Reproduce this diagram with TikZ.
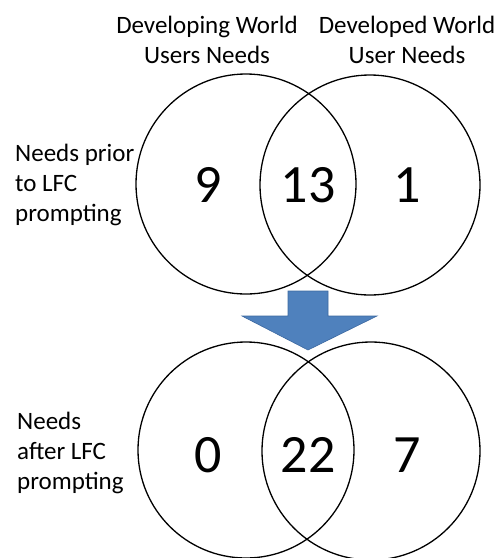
\documentclass[tikz,border=0pt]{standalone}
\usepackage{fontspec}
\setmainfont{Carlito}
\definecolor{arrowblue}{RGB}{79,129,189}
\definecolor{arrowedge}{RGB}{60,104,160}
\begin{document}
\begin{tikzpicture}[x=1pt,y=-1pt,
  venn/.style={circle,draw=black,line width=1.3pt,inner sep=0pt,minimum size=#1},
  lbl/.style={font=\fontsize{25}{30}\selectfont,inner sep=0pt},
  num/.style={font=\fontsize{54}{60}\selectfont,inner sep=0pt}]
\useasboundingbox (0,0) rectangle (500,558);
% top Venn
\node[venn=220pt] (L1) at (246,184) {};
\node[venn=220pt] (R1) at (370,185) {};
% bottom Venn
\node[venn=216pt] (L2) at (246,450) {};
\node[venn=218pt] (R2) at (371,451) {};
% headings
\node[lbl,align=center] (h1) at (207,40) {Developing World\\Users Needs};
\node[lbl,align=center] (h2) at (407,40) {Developed World\\User Needs};
% side labels
\node[lbl,align=left,anchor=west] (s1) at (15,185) {Needs prior\\to LFC\\prompting};
\node[lbl,align=left,anchor=west] (s2) at (17,453) {Needs\\after LFC\\prompting};
% numbers
\node[num] (n9) at (208,185) {9};
\node[num] (n13) at (308,185) {13};
\node[num] (n1) at (407,185) {1};
\node[num] (n0) at (208,455) {0};
\node[num] (n22) at (308,455) {22};
\node[num] (n7) at (407,455) {7};
% arrow
\draw[fill=arrowblue,draw=arrowedge,line width=0.6pt,line join=miter]
  (288,291) -- (328,291) -- (328,316) -- (377,316) -- (308,350) -- (242,316) -- (288,316) -- cycle;
\end{tikzpicture}
\end{document}
